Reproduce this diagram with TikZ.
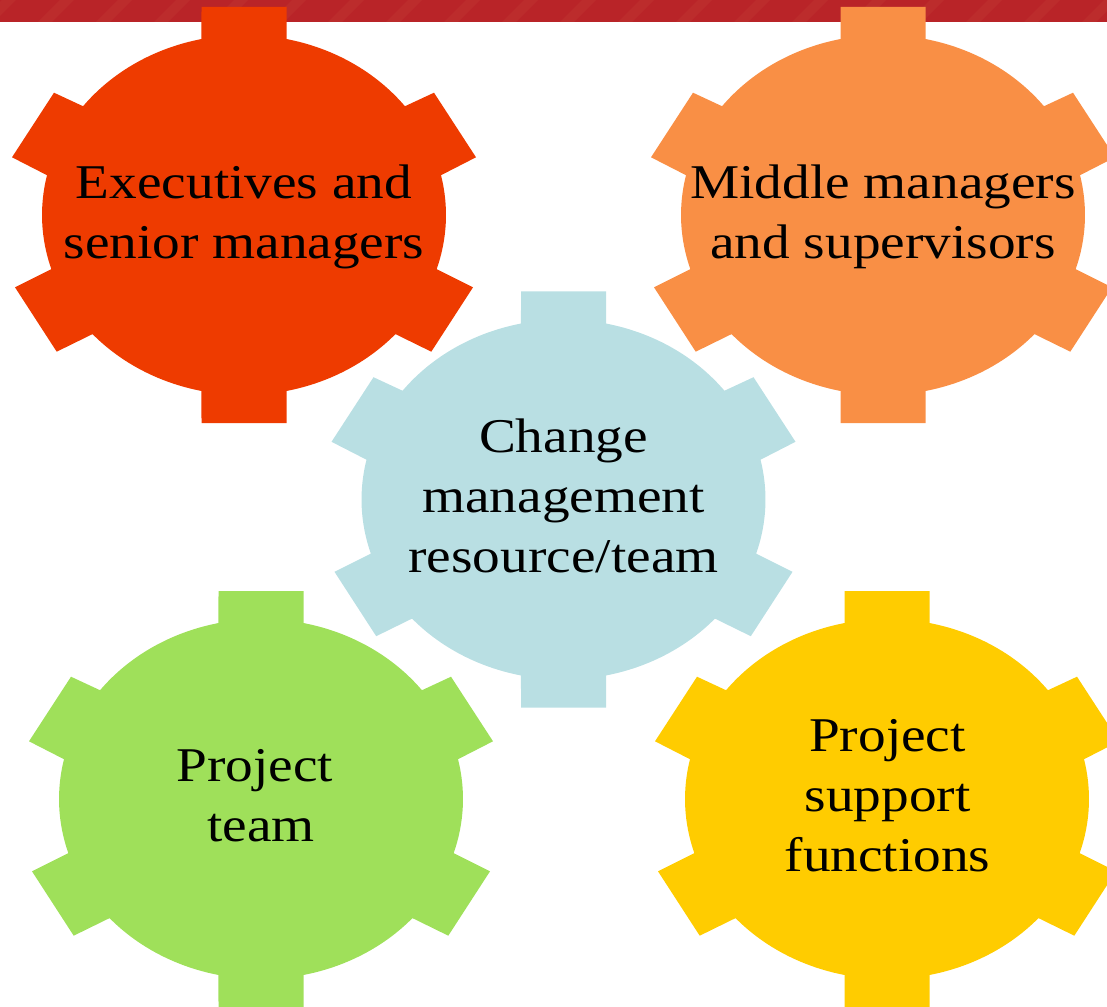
\documentclass[tikz,border=0pt]{standalone}
\usepackage{fontspec}
\setmainfont[FakeStretch=1.14]{Liberation Serif}

\definecolor{barred}{HTML}{B92428}
\definecolor{barlight}{HTML}{C6443A}
\definecolor{execred}{HTML}{EE3B00}
\definecolor{midorange}{HTML}{F98F45}
\definecolor{changeblue}{HTML}{B9DFE3}
\definecolor{teamgreen}{HTML}{9FE05A}
\definecolor{supportyellow}{HTML}{FFCC00}

\tikzset{
	% six-tooth gear on a unit circle, stretched by gearsize
	gear/.pic={
		\fill[pic actions] (77.85:1) -- (0.2104,1.1556) -- (-0.2104,1.1556) -- (102.15:1)
			arc[start angle=102.15, end angle=142.82, radius=1]
			-- (-0.9406,0.6794) -- (-1.1485,0.3206) -- (167.23:1)
			arc[start angle=167.23, end angle=197.5, radius=1]
			-- (-1.1337,-0.4017) -- (-0.9272,-0.7594) -- (221.43:1)
			arc[start angle=221.43, end angle=257.85, radius=1]
			-- (-0.2104,-1.1556) -- (0.2104,-1.1556) -- (282.15:1)
			arc[start angle=282.15, end angle=318.57, radius=1]
			-- (0.9272,-0.7594) -- (1.1337,-0.4017) -- (342.5:1)
			arc[start angle=342.5, end angle=372.77, radius=1]
			-- (1.1485,0.3206) -- (0.9406,0.6794) -- (37.18:1)
			arc[start angle=37.18, end angle=77.85, radius=1] -- cycle;
	},
	gearsize/.style={xscale=202, yscale=180},
	gearlabel/.style={align=center, font=\fontsize{48.5}{60}\selectfont,
		execute at begin node=\strut, execute at end node=\strut}
}

\begin{document}
\begin{tikzpicture}[x=1pt,y=1pt]
	\useasboundingbox (0,0) rectangle (1107,-1006);
	\clip (0,0) rectangle (1107,-1006);

	% top band with faint diagonal streaks
	\begin{scope}
		\clip (0,0) rectangle (1107,-22);
		\fill[barred] (0,0) rectangle (1107,-22);
		\foreach \s in {-20,38,...,1120}
			\fill[barlight, opacity=0.25] (\s,-22) -- (\s+14,-22) -- (\s+36,0) -- (\s+22,0) -- cycle;
	\end{scope}

	\pic[fill=execred, gearsize] (execgear) at (244,-215) {gear};
	\pic[fill=midorange, gearsize] (midgear) at (883,-215) {gear};
	\pic[fill=changeblue, gearsize] (changegear) at (563.5,-499.5) {gear};
	\pic[fill=teamgreen, gearsize] (teamgear) at (261,-799) {gear};
	\pic[fill=supportyellow, gearsize] (supportgear) at (887,-799) {gear};

	\node[gearlabel] (exec) at (244,-220.5) {Executives and\\senior managers};
	\node[gearlabel] (mid) at (883,-220.5) {Middle managers\\and supervisors};
	\node[gearlabel] (change) at (563.5,-505) {Change\\management\hspace*{.25em}\\resource/team};
	\node[gearlabel] (team) at (261,-804.5) {Project\hspace*{.25em}\\team};
	\node[gearlabel] (support) at (887.5,-804.5) {Project\\support\\functions};
\end{tikzpicture}
\end{document}
